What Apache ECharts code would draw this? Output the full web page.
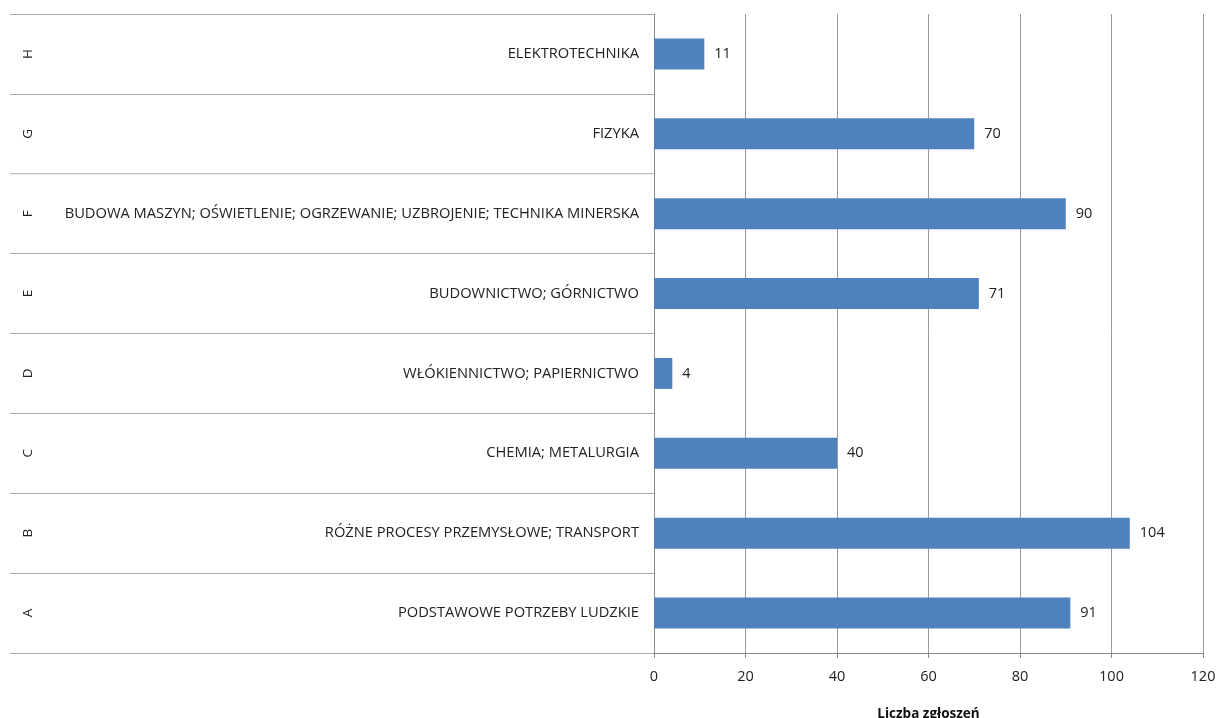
<!DOCTYPE html>
<html><head><meta charset="utf-8">
<script src="https://cdn.jsdelivr.net/npm/echarts@6/dist/echarts.min.js"></script>
<style>html,body{margin:0;padding:0;background:#fff}#c{width:1216px;height:718px}</style>
</head><body><div id="c"></div>
<script>
const letters = ['A','B','C','D','E','F','G','H'];
const names = ['PODSTAWOWE POTRZEBY LUDZKIE','RÓŻNE PROCESY PRZEMYSŁOWE; TRANSPORT','CHEMIA; METALURGIA','WŁÓKIENNICTWO; PAPIERNICTWO','BUDOWNICTWO; GÓRNICTWO','BUDOWA MASZYN; OŚWIETLENIE; OGRZEWANIE; UZBROJENIE; TECHNIKA MINERSKA','FIZYKA','ELEKTROTECHNIKA'];
const values = [91,104,40,4,71,90,70,11];
const xTicks = [0,20,40,60,80,100,120];
const font = '"Open Sans", "Liberation Sans", Arial, sans-serif';
const chart = echarts.init(document.getElementById('c'));
chart.setOption({
  animation:false,
  grid:{left:654,right:13,top:14,bottom:65,outerBoundsMode:'none',containLabel:false},
  xAxis:{type:'value',min:xTicks[0],max:xTicks[xTicks.length-1],interval:20,
    name:'Liczba zgłoszeń',nameLocation:'middle',nameGap:54,
    nameTextStyle:{fontFamily:font,fontSize:13.5,fontWeight:'bold',color:'#111'},
    axisLine:{show:true,lineStyle:{color:'#888',width:1}},
    axisTick:{show:true,length:5,lineStyle:{color:'#888'}},
    axisLabel:{fontFamily:font,fontSize:14.5,color:'#222',margin:16},
    splitLine:{show:true,lineStyle:{color:'#999',width:1}}},
  yAxis:[
    {type:'category',data:names,position:'left',
      axisLine:{show:true,lineStyle:{color:'#888',width:1}},
      axisTick:{show:true,length:644,lineStyle:{color:'#aaa',width:1}},
      axisLabel:{fontFamily:font,fontSize:14.7,color:'#222',margin:15},
      splitLine:{show:false}},
    {type:'category',data:letters,position:'left',offset:613,
      axisLine:{show:false},axisTick:{show:false},
      axisLabel:{fontFamily:font,fontSize:13.5,color:'#222',rotate:90,margin:6}}
  ],
  series:[{type:'bar',data:values,yAxisIndex:0,barWidth:31,
    itemStyle:{color:'#4F81BD'},
    label:{show:true,position:'right',distance:10,fontFamily:font,fontSize:14.5,color:'#222'}}]
});
</script></body></html>
